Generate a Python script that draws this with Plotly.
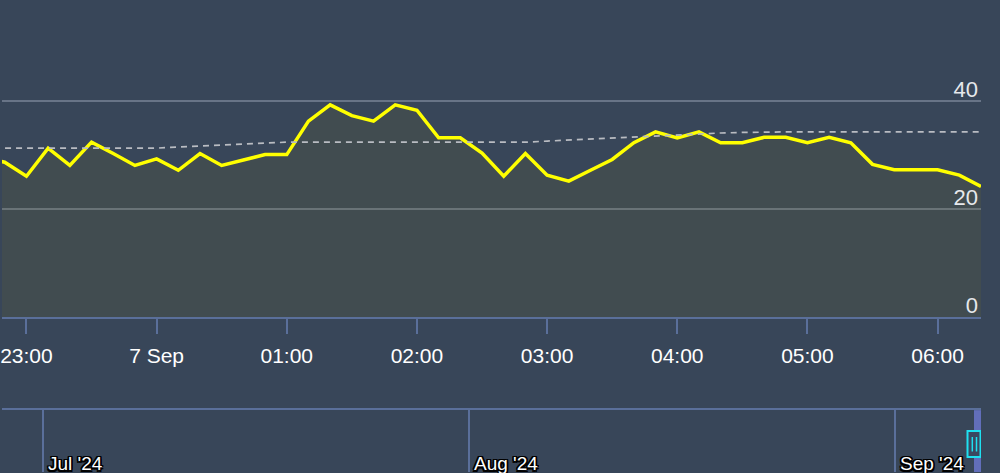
import pandas as pd
import plotly.graph_objects as go

# ---------------- data ----------------
times = pd.date_range("2024-09-06 22:40", "2024-09-07 06:20", freq="10min")

values = [29.5, 28.7, 26.1, 31.3, 28.1, 32.4, 30.3, 28.1,
          29.3, 27.2, 30.3, 28.1, 29.1, 30.1,
          30.1, 36.3, 39.3, 37.3, 36.3, 39.3,
          38.3, 33.2, 33.2, 30.4, 26.1, 30.3,
          26.3, 25.2, 27.2, 29.2, 32.3, 34.3,
          33.2, 34.3, 32.3, 32.3, 33.3, 33.3,
          32.3, 33.3, 32.3, 28.3, 27.3, 27.3,
          27.3, 26.3, 24.2]

moving_avg = [31.3, 31.3, 31.3, 31.3, 31.3, 31.3, 31.3, 31.3,
              31.3, 31.5, 31.7, 31.9, 32.1, 32.3,
              32.4, 32.4, 32.4, 32.4, 32.4, 32.4,
              32.4, 32.4, 32.4, 32.4, 32.4, 32.4,
              32.6, 32.8, 33.0, 33.2, 33.4, 33.6,
              33.8, 34.0, 34.1, 34.2, 34.3, 34.3,
              34.3, 34.3, 34.3, 34.3, 34.3, 34.3,
              34.3, 34.3, 34.3]

x_tick_values = ["2024-09-06 23:00", "2024-09-07 00:00", "2024-09-07 01:00",
                 "2024-09-07 02:00", "2024-09-07 03:00", "2024-09-07 04:00",
                 "2024-09-07 05:00", "2024-09-07 06:00"]
x_tick_labels = ["23:00", "7 Sep", "01:00", "02:00", "03:00", "04:00", "05:00", "06:00"]

y_tick_values = [0, 20, 40]

view_start = "2024-09-06 22:48:44"
view_end = "2024-09-07 06:20"

nav_start = "2024-06-28 00:00"
nav_tick_values = ["2024-07-01", "2024-08-01", "2024-09-01"]
nav_tick_labels = ["Jul '24", "Aug '24", "Sep '24"]

# ---------------- style ----------------
BG = "#384659"
AXIS_BLUE = "#5a6f9a"
GRID = "#687487"
FONT = "Liberation Sans"
W, H = 1000, 473
PLOT_BOTTOM_PX = 318
NAV_TOP_PX = 411

fig = go.Figure()

fig.add_trace(go.Scatter(
    x=times, y=values, mode="lines",
    line=dict(color="#ffff00", width=3.5),
    fill="tozeroy", fillcolor="rgba(112,114,40,0.16)",
    xaxis="x", yaxis="y", hoverinfo="skip", showlegend=False,
))
fig.add_trace(go.Scatter(
    x=times, y=moving_avg, mode="lines",
    line=dict(color="#b9bcc2", width=1.7, dash="6px,5px"),
    xaxis="x", yaxis="y", hoverinfo="skip", showlegend=False,
))
# navigator axis carrier (no visible series)
fig.add_trace(go.Scatter(
    x=[nav_start, view_end], y=[None, None], mode="lines",
    xaxis="x2", yaxis="y2", hoverinfo="skip", showlegend=False,
))

main_bottom = (H - PLOT_BOTTOM_PX) / H
nav_top = (H - NAV_TOP_PX) / H

fig.update_layout(
    width=W, height=H,
    margin=dict(l=0, r=19, t=0, b=0),
    paper_bgcolor=BG, plot_bgcolor=BG,
    showlegend=False,
    xaxis=dict(
        domain=[0, 1], anchor="y",
        range=[view_start, view_end], type="date",
        tickvals=x_tick_values, ticktext=x_tick_labels,
        ticks="outside", ticklen=15, tickwidth=1.5, tickcolor=AXIS_BLUE,
        showline=True, linecolor=AXIS_BLUE, linewidth=2,
        showgrid=False, zeroline=False,
        tickfont=dict(family=FONT, size=21, color="#ffffff"),
        ticklabelstandoff=3, ticklabeloverflow="allow",
    ),
    yaxis=dict(
        domain=[main_bottom, 1], anchor="x",
        range=[0, 318 / 5.4175], side="right",
        tickvals=y_tick_values,
        ticklabelposition="inside",
        ticklabelshift=-12, ticklabelstandoff=0,
        ticklabeloverflow="allow",
        showgrid=True, gridcolor=GRID, gridwidth=2,
        zeroline=False, showline=False, ticks="",
        tickfont=dict(family=FONT, size=22, color="#e6e8ec"),
    ),
    xaxis2=dict(
        domain=[0, 1], anchor="y2", side="top",
        range=[nav_start, view_end], type="date",
        tickvals=nav_tick_values, showticklabels=False, ticks="",
        showline=True, linecolor=AXIS_BLUE, linewidth=2,
        showgrid=True, gridcolor=AXIS_BLUE, gridwidth=1.5,
        zeroline=False,
    ),
    yaxis2=dict(
        domain=[0, nav_top], anchor="x2", range=[0, 1], visible=False,
    ),
)

outline = ("-1.5px -1.5px 0 #000, 1.5px -1.5px 0 #000, -1.5px 1.5px 0 #000, "
           "1.5px 1.5px 0 #000, 0 1.5px 0 #000, 0 -1.5px 0 #000, "
           "1.5px 0 0 #000, -1.5px 0 0 #000")
for tv, tl in zip(nav_tick_values, nav_tick_labels):
    fig.add_annotation(
        x=tv, xref="x2", y=0, yref="paper",
        text=tl, showarrow=False, xanchor="left", yanchor="middle",
        xshift=3, yshift=9,
        font=dict(family=FONT, size=19, color="#ffffff", shadow=outline),
    )

# navigator selected-range mask and handle (anchored at the view end)
fig.add_shape(type="rect", xref="x2", yref="paper",
              xsizemode="pixel", xanchor=view_end, x0=-7, x1=0,
              y0=0, y1=nav_top, line=dict(width=0),
              fillcolor="rgb(98,110,186)", layer="above")
fig.add_shape(type="rect", xref="x2", yref="paper",
              xsizemode="pixel", xanchor=view_end, x0=-13.5, x1=-0.5,
              ysizemode="pixel", yanchor=0, y0=15, y1=41,
              line=dict(color="#1fe0f0", width=2),
              fillcolor="#3a4860", layer="above")
for dx in (-8.7, -4.5):
    fig.add_shape(type="line", xref="x2", yref="paper",
                  xsizemode="pixel", xanchor=view_end, x0=dx, x1=dx,
                  ysizemode="pixel", yanchor=0, y0=20.5, y1=35,
                  line=dict(color="#1fe0f0", width=1.5), layer="above")

fig.write_html(
    "out.html",
    config={"displayModeBar": False},
    post_script="document.body.style.margin='0';document.body.style.background='" + BG + "';",
)
